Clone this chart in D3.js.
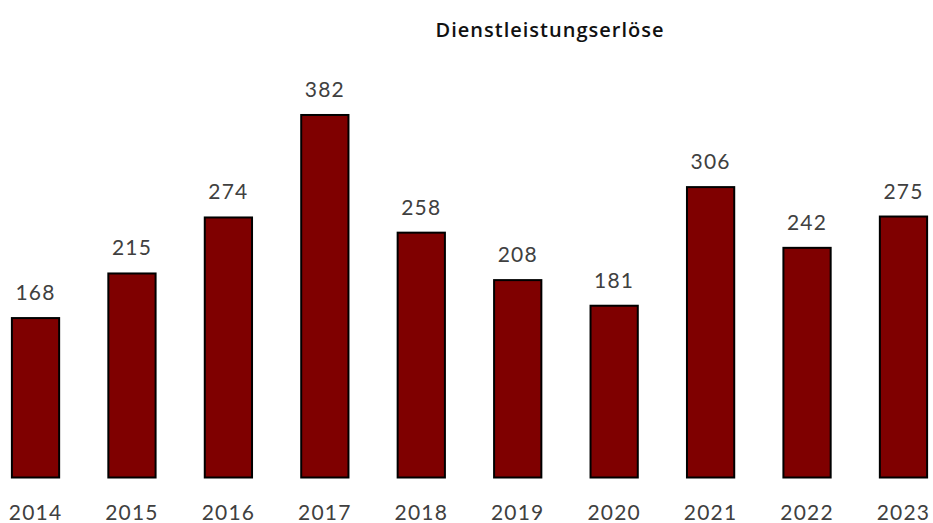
<!DOCTYPE html>
<html>
<head>
<meta charset="utf-8">
<script src="https://cdn.jsdelivr.net/npm/d3@7"></script>
<style>
  body { margin: 0; background: #fff; }
  text { font-family: Lato, "Open Sans", sans-serif; fill: #404040; }
</style>
</head>
<body>
<div id="chart"></div>
<script>

// data
var years = [ '2014', '2015', '2016', '2017', '2018', '2019', '2020', '2021', '2022', '2023' ];
var revenue = [ 168, 215, 274, 382, 258, 208, 181, 306, 242, 275 ];
var title = 'Dienstleistungserlöse';

var width = 933, height = 523;

var svg = d3.select( '#chart' ).append( 'svg' )
    .attr( 'width', width )
    .attr( 'height', height );

var x_scale = d3.scaleBand()
    .domain( years )
    .range( [ -12.7, 951.7 ] )
    .paddingInner( 0.51 )
    .paddingOuter( 0.255 );

var y_scale = d3.scaleLinear().domain( [ 0, 500 ] ).range( [ 477.5, 3 ] );

var rows = years.map( function( y, i ) { return { year: y, value: revenue[i] }; } );

svg.append( 'text' )
    .attr( 'x', 550 ).attr( 'y', 37 )
    .attr( 'text-anchor', 'middle' )
    .style( 'font-family', '"Open Sans", sans-serif' )
    .style( 'font-size', '20px' )
    .style( 'font-weight', 600 )
    .style( 'letter-spacing', '1px' )
    .style( 'fill', '#111' )
    .text( title );

svg.selectAll( 'rect.bar' ).data( rows ).enter()
    .append( 'rect' )
    .attr( 'class', 'bar' )
    .attr( 'x', function( d ) { return x_scale( d.year ); } )
    .attr( 'y', function( d ) { return y_scale( d.value ); } )
    .attr( 'width', x_scale.bandwidth() )
    .attr( 'height', function( d ) { return y_scale( 0 ) - y_scale( d.value ); } )
    .style( 'fill', '#7f0000' )
    .style( 'stroke', '#000' )
    .style( 'stroke-width', 2 );

svg.selectAll( 'text.val' ).data( rows ).enter()
    .append( 'text' )
    .attr( 'class', 'val' )
    .attr( 'x', function( d ) { return x_scale( d.year ) + x_scale.bandwidth() / 2; } )
    .attr( 'y', function( d ) { return y_scale( d.value ) - 18; } )
    .attr( 'text-anchor', 'middle' )
    .style( 'font-size', '21px' )
    .style( 'letter-spacing', '1.2px' )
    .text( function( d ) { return d.value; } );

svg.selectAll( 'text.year' ).data( rows ).enter()
    .append( 'text' )
    .attr( 'class', 'year' )
    .attr( 'x', function( d ) { return x_scale( d.year ) + x_scale.bandwidth() / 2; } )
    .attr( 'y', 520 )
    .attr( 'text-anchor', 'middle' )
    .style( 'font-size', '21px' )
    .style( 'letter-spacing', '1.2px' )
    .text( function( d ) { return d.year; } );

</script>
</body>
</html>
